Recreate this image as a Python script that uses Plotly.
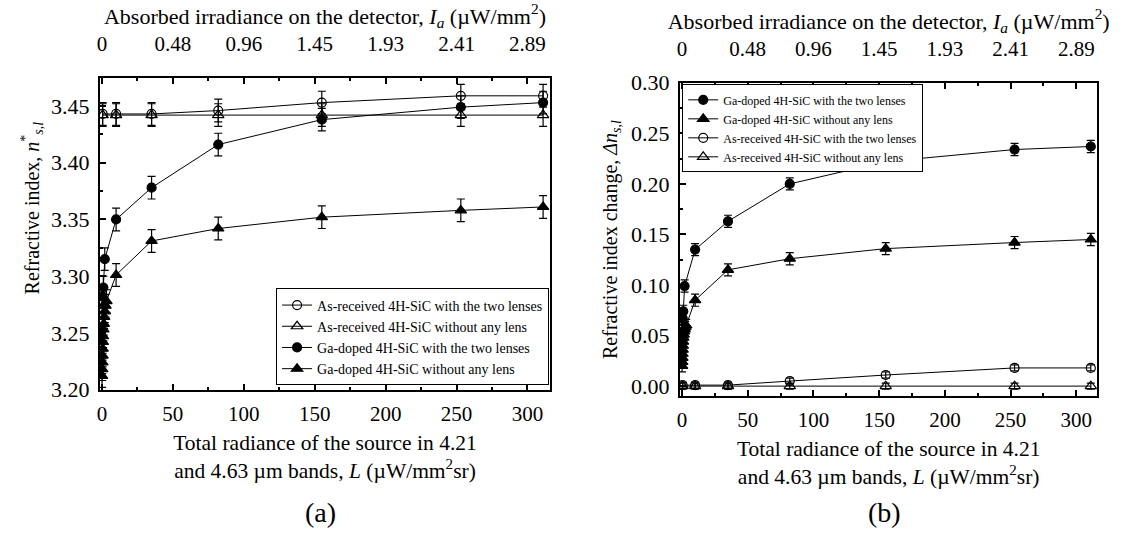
import plotly.graph_objects as go

# ---------------- data ----------------
L_ticks = [0, 50, 100, 150, 200, 250, 300]
Ia_labels = ["0", "0.48", "0.96", "1.45", "1.93", "2.41", "2.89"]

# Panel (a): refractive index
L_asr = [0.5, 10, 35, 82, 155, 253, 311]
n_asr_lens = [3.443, 3.443, 3.443, 3.446, 3.453, 3.459, 3.459]
n_asr_nolens = [3.442, 3.442, 3.442, 3.442, 3.442, 3.442, 3.442]

L_ga_lens = [0.5, 1.0, 2.0, 10, 35, 82, 155, 253, 311]
n_ga_lens = [3.282, 3.290, 3.315, 3.350, 3.378, 3.416, 3.438, 3.449, 3.453]

L_ga_nolens = [0.1, 0.2, 0.3, 0.4, 0.5, 0.6, 0.8, 1.0, 1.3, 1.6, 2.0, 2.5, 3.2,
               10, 35, 82, 155, 253, 311]
n_ga_nolens = [3.212, 3.218, 3.224, 3.230, 3.236, 3.242, 3.247, 3.253, 3.258,
               3.264, 3.269, 3.274, 3.278, 3.301, 3.331, 3.342, 3.352, 3.358, 3.361]

err_a = 0.01

# Panel (b): refractive index change
dn_ga_lens = [0.067, 0.074, 0.099, 0.135, 0.163, 0.200, 0.222, 0.234, 0.237]
dn_ga_nolens = [0.020, 0.024, 0.028, 0.032, 0.036, 0.040, 0.044, 0.048, 0.051,
                0.054, 0.056, 0.058, 0.060, 0.085, 0.115, 0.126, 0.136, 0.142, 0.145]
dn_asr_lens = [0.001, 0.001, 0.001, 0.005, 0.011, 0.018, 0.018]
dn_asr_nolens = [0.0, 0.0, 0.0, 0.0, 0.0, 0.0, 0.0]

err_b_ga = 0.006
err_b_asr = 0.003

# ---------------- figure ----------------
FONT = "'Liberation Serif', 'Times New Roman', Times, serif"
W, H = 1122, 538
fig = go.Figure()

def add(x, y, err, symbol, name, xa, ya, leg, msize=9):
    fig.add_trace(go.Scatter(
        x=x, y=y, mode="lines+markers", name=name,
        xaxis=xa, yaxis=ya, legend=leg,
        line=dict(color="black", width=1),
        marker=dict(symbol=symbol, size=msize, color="black",
                    line=dict(color="black", width=1.2)),
        error_y=dict(type="constant", value=err, color="black",
                     thickness=1.2, width=4),
    ))

# left panel
add(L_asr, n_asr_lens, err_a, "circle-open", "As-received 4H-SiC with the two lenses", "x", "y", "legend")
add(L_asr, n_asr_nolens, err_a, "triangle-up-open", "As-received 4H-SiC without any lens", "x", "y", "legend", 10)
add(L_ga_lens, n_ga_lens, err_a, "circle", "Ga-doped 4H-SiC with the two lenses", "x", "y", "legend")
add(L_ga_nolens, n_ga_nolens, err_a, "triangle-up", "Ga-doped 4H-SiC without any lens", "x", "y", "legend", 10)

# right panel
add(L_ga_lens, dn_ga_lens, err_b_ga, "circle", "Ga-doped 4H-SiC with the two lenses", "x2", "y2", "legend2")
add(L_ga_nolens, dn_ga_nolens, err_b_ga, "triangle-up", "Ga-doped 4H-SiC without any lens", "x2", "y2", "legend2", 10)
add(L_asr, dn_asr_lens, err_b_asr, "circle-open", "As-received 4H-SiC with the two lenses", "x2", "y2", "legend2")
add(L_asr, dn_asr_nolens, err_b_asr, "triangle-up-open", "As-received 4H-SiC without any lens", "x2", "y2", "legend2", 10)

# dummy traces so the top axes render
fig.add_trace(go.Scatter(x=[None], y=[None], xaxis="x3", yaxis="y", showlegend=False, hoverinfo="skip"))
fig.add_trace(go.Scatter(x=[None], y=[None], xaxis="x4", yaxis="y2", showlegend=False, hoverinfo="skip"))

xtickfont = dict(family=FONT, size=21, color="black")
ytickfont = dict(family=FONT, size=22, color="black")

xr = [-1.5, 316]
common_x = dict(range=xr, tickmode="array", tickvals=L_ticks, ticks="inside", ticklen=6,
                tickwidth=2, tickcolor="black", showline=True, linewidth=2, linecolor="black",
                showgrid=False, zeroline=False, tickfont=xtickfont,
                minor=dict(tickmode="array", tickvals=[25, 75, 125, 175, 225, 275],
                           ticks="inside", ticklen=3, tickwidth=1.5, tickcolor="black"))
common_y = dict(ticks="inside", ticklen=6, tickwidth=2, tickcolor="black", showline=True,
                linewidth=2, linecolor="black", mirror=True, showgrid=False, zeroline=False,
                tickfont=ytickfont, tickformat=".2f", ticklabelstandoff=4)

bottom_title = "Total radiance of the source in 4.21<br>and 4.63 \u00b5m bands, <i>L</i> (\u00b5W/mm<sup>2</sup>sr)"
top_title = "Absorbed irradiance on the detector, <i>I</i><sub><i>a</i></sub> (\u00b5W/mm<sup>2</sup>)"
bfont = dict(family=FONT, size=21.5, color="black")
tfont = dict(family=FONT, size=22, color="black")

fig.update_layout(
    width=W, height=H,
    margin=dict(l=0, r=0, t=0, b=0),
    paper_bgcolor="white", plot_bgcolor="white",
    font=dict(family=FONT, color="black"),
    xaxis=dict(domain=[0.0865, 0.489], anchor="y", ticklabelstandoff=4,
               title=dict(text=bottom_title, font=bfont, standoff=10), **common_x),
    xaxis3=dict(overlaying="x", side="top", anchor="y", ticktext=Ia_labels, ticklabelstandoff=16,
                title=dict(text=top_title, font=tfont, standoff=2), **common_x),
    yaxis=dict(domain=[0.264, 0.872], anchor="x", range=[3.2, 3.475], dtick=0.05,
               minor=dict(dtick=0.025, ticks="inside", ticklen=3, tickwidth=1.5, tickcolor="black"),
               **common_y),
    xaxis2=dict(domain=[0.605, 0.978], anchor="y2", ticklabelstandoff=4,
                title=dict(text=bottom_title, font=bfont, standoff=10), **common_x),
    xaxis4=dict(overlaying="x2", side="top", anchor="y2", ticktext=Ia_labels, ticklabelstandoff=16,
                title=dict(text=top_title, font=tfont, standoff=2), **common_x),
    yaxis2=dict(domain=[0.251, 0.862], anchor="x2", range=[-0.01, 0.30], dtick=0.05,
                minor=dict(dtick=0.025, ticks="inside", ticklen=3, tickwidth=1.5, tickcolor="black"),
                title=dict(text="Refractive index change, <i>\u0394n</i><sub><i>s,l</i></sub>",
                           font=dict(family=FONT, size=20, color="black"), standoff=8), **common_y),
    legend=dict(x=0.488, y=0.272, xanchor="right", yanchor="bottom",
                bgcolor="white", bordercolor="black", borderwidth=1,
                font=dict(family=FONT, size=14, color="black"), tracegroupgap=0,
                itemwidth=30),
    legend2=dict(x=0.607, y=0.859, xanchor="left", yanchor="top",
                 bgcolor="white", bordercolor="black", borderwidth=1,
                 font=dict(family=FONT, size=12, color="black"), tracegroupgap=0,
                 itemwidth=30),
    annotations=[
        dict(text="Refractive index, <i>n</i><sup>*</sup><sub><i>s,l</i></sub>",
             x=30 / W, y=1 - 205 / H, xref="paper", yref="paper", textangle=-90,
             xanchor="center", yanchor="middle",
             showarrow=False, font=dict(family=FONT, size=20, color="black")),
        dict(text="(a)", x=318 / W, y=1 - 525 / H, xref="paper", yref="paper",
             xanchor="center", yanchor="middle",
             showarrow=False, font=dict(family=FONT, size=28, color="black")),
        dict(text="(b)", x=884 / W, y=1 - 525 / H, xref="paper", yref="paper",
             xanchor="center", yanchor="middle",
             showarrow=False, font=dict(family=FONT, size=28, color="black")),
    ],
)

fig.write_html("out.html")
